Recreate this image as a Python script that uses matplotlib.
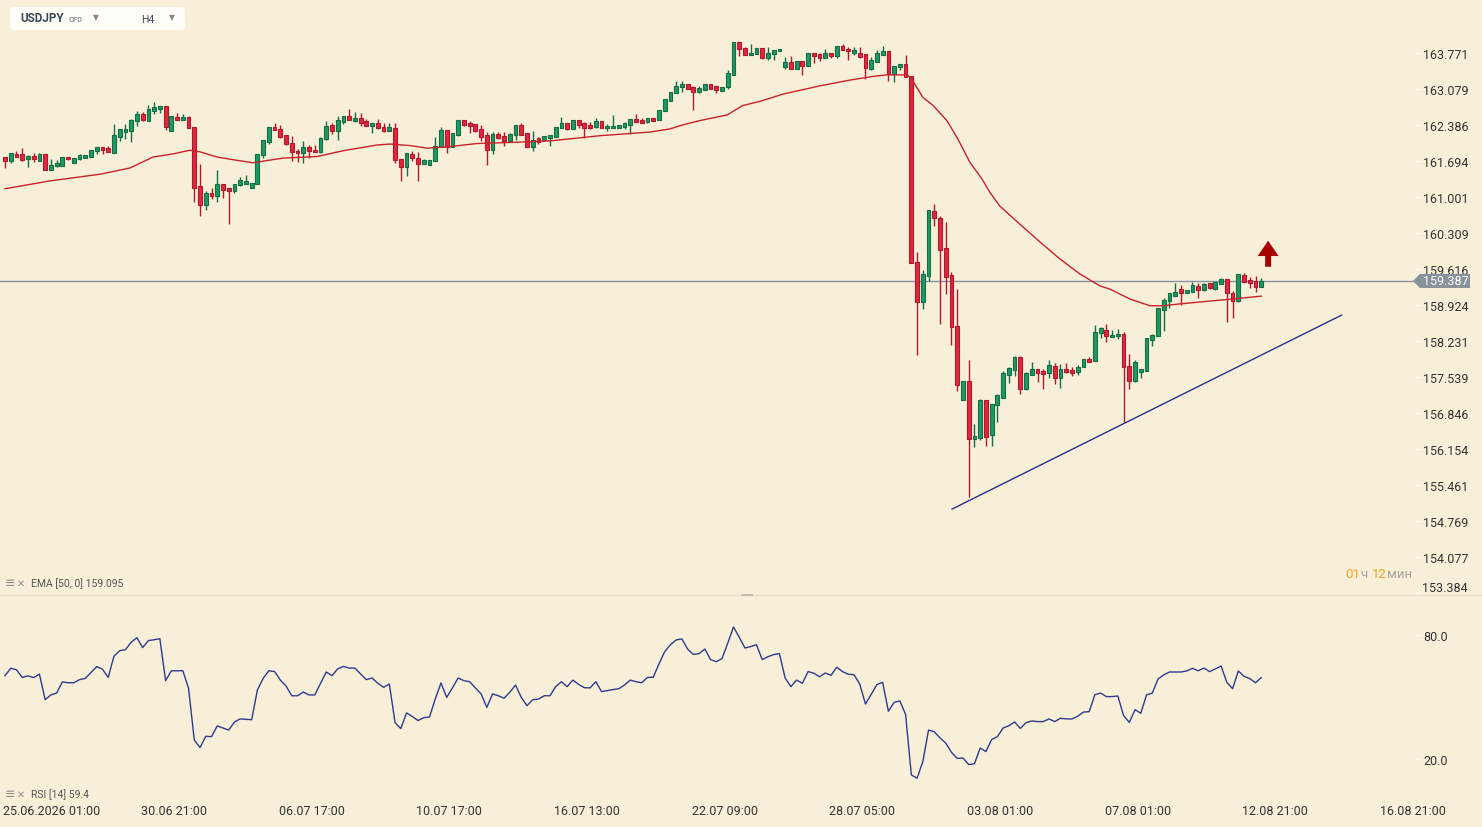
import numpy as np
import matplotlib
matplotlib.use('Agg')
from matplotlib import pyplot as plt
from matplotlib.patches import FancyBboxPatch, Polygon
from matplotlib.lines import Line2D
import matplotlib.transforms as mtransforms

plt.rcParams['font.family'] = ['Roboto', 'DejaVu Sans']

# USDJPY H4 candles (bar 1 .. bar 220)
opens = [
    161.78, 161.70, 161.82, 161.83, 161.73, 161.79, 161.70, 161.82, 161.53, 161.59,
    161.60, 161.78, 161.65, 161.74, 161.76, 161.78, 161.88, 161.96, 161.94, 161.84,
    162.16, 162.26, 162.28, 162.46, 162.59, 162.47, 162.66, 162.70, 162.75, 162.28,
    162.54, 162.49, 162.54, 162.34, 161.21, 160.84, 161.08, 161.03, 161.25, 161.17,
    161.11, 161.24, 161.26, 161.17, 161.25, 161.80, 162.05, 162.35, 162.31, 162.19,
    162.04, 161.89, 161.85, 161.96, 161.91, 161.87, 162.12, 162.38, 162.28, 162.45,
    162.55, 162.47, 162.52, 162.46, 162.36, 162.42, 162.34, 162.28, 162.32, 161.74,
    161.57, 161.83, 161.76, 161.63, 161.62, 161.69, 161.96, 162.29, 161.97, 162.20,
    162.48, 162.42, 162.40, 162.31, 162.19, 161.91, 162.21, 162.17, 162.07, 162.19,
    162.39, 162.23, 161.97, 162.14, 162.09, 162.14, 162.16, 162.32, 162.42, 162.30,
    162.48, 162.42, 162.39, 162.35, 162.46, 162.32, 162.32, 162.33, 162.35, 162.39,
    162.50, 162.48, 162.44, 162.52, 162.49, 162.66, 162.85, 163.01, 163.12, 163.17,
    163.12, 163.03, 163.06, 163.17, 163.14, 163.04, 163.11, 163.35, 163.98, 163.87,
    163.74, 163.75, 163.87, 163.67, 163.75, 163.80, 163.50, 163.60, 163.47, 163.61,
    163.53, 163.77, 163.75, 163.67, 163.78, 163.71, 163.90, 163.85, 163.77, 163.78,
    163.75, 163.46, 163.60, 163.74, 163.80, 163.37, 163.50, 163.56, 163.32, 159.75,
    158.98, 159.49, 160.73, 160.59, 160.02, 159.50, 158.52, 157.09, 157.46, 156.34,
    156.37, 157.10, 156.43, 157.01, 157.13, 157.58, 157.68, 157.93, 157.31, 157.58,
    157.69, 157.65, 157.62, 157.75, 157.53, 157.69, 157.67, 157.64, 157.73, 157.89,
    157.84, 158.38, 158.44, 158.30, 158.32, 158.37, 157.75, 157.47, 157.64, 157.66,
    158.26, 158.32, 158.83, 159.00, 159.10, 159.23, 159.15, 159.18, 159.29, 159.21,
    159.34, 159.23, 159.32, 159.42, 159.15, 159.01, 159.50, 159.41, 159.38, 159.27,
]
highs = [
    161.78, 161.84, 161.89, 161.94, 161.81, 161.84, 161.84, 161.82, 161.73, 161.72,
    161.78, 161.78, 161.76, 161.83, 161.80, 161.90, 161.96, 161.96, 161.98, 162.41,
    162.30, 162.41, 162.50, 162.65, 162.63, 162.77, 162.82, 162.75, 162.75, 162.55,
    162.62, 162.60, 162.55, 162.34, 161.64, 161.11, 161.18, 161.52, 161.25, 161.17,
    161.26, 161.38, 161.42, 161.28, 161.82, 162.10, 162.34, 162.42, 162.39, 162.19,
    162.17, 161.92, 162.07, 162.01, 162.01, 162.15, 162.46, 162.42, 162.55, 162.55,
    162.69, 162.63, 162.62, 162.50, 162.42, 162.50, 162.42, 162.42, 162.42, 161.74,
    161.84, 161.89, 161.87, 161.74, 161.71, 162.16, 162.34, 162.29, 162.23, 162.48,
    162.48, 162.46, 162.40, 162.39, 162.26, 162.25, 162.26, 162.25, 162.24, 162.38,
    162.42, 162.23, 162.27, 162.16, 162.17, 162.19, 162.34, 162.54, 162.42, 162.48,
    162.48, 162.44, 162.44, 162.52, 162.46, 162.40, 162.58, 162.39, 162.45, 162.50,
    162.60, 162.52, 162.53, 162.52, 162.68, 162.89, 163.03, 163.24, 163.24, 163.17,
    163.14, 163.14, 163.17, 163.17, 163.14, 163.12, 163.44, 163.98, 163.98, 163.88,
    163.94, 163.87, 163.87, 163.88, 163.83, 163.85, 163.69, 163.71, 163.61, 163.61,
    163.77, 163.77, 163.78, 163.84, 163.78, 163.90, 163.94, 163.88, 163.88, 163.88,
    163.75, 163.69, 163.83, 163.90, 163.80, 163.52, 163.56, 163.73, 163.32, 159.94,
    159.60, 160.75, 160.87, 160.64, 160.53, 159.55, 159.23, 157.46, 157.87, 156.64,
    157.12, 157.10, 157.03, 157.21, 157.65, 157.74, 157.95, 157.95, 157.63, 157.82,
    157.69, 157.69, 157.87, 157.80, 157.79, 157.81, 157.74, 157.77, 157.89, 157.93,
    158.54, 158.51, 158.56, 158.44, 158.46, 158.40, 157.98, 157.87, 157.69, 158.29,
    158.37, 158.87, 159.06, 159.15, 159.34, 159.30, 159.21, 159.37, 159.35, 159.34,
    159.35, 159.37, 159.44, 159.42, 159.20, 159.52, 159.54, 159.47, 159.48, 159.44,
]
lows = [
    161.56, 161.66, 161.78, 161.69, 161.57, 161.68, 161.70, 161.53, 161.53, 161.57,
    161.59, 161.72, 161.65, 161.72, 161.76, 161.78, 161.82, 161.82, 161.86, 161.84,
    162.07, 162.12, 162.05, 162.36, 162.47, 162.47, 162.59, 162.62, 162.29, 162.28,
    162.49, 162.49, 162.32, 160.91, 160.64, 160.76, 160.96, 160.91, 160.99, 160.49,
    161.07, 161.21, 161.26, 161.17, 161.25, 161.75, 162.02, 162.29, 162.14, 162.00,
    161.70, 161.68, 161.66, 161.76, 161.86, 161.85, 162.10, 162.21, 162.09, 162.41,
    162.49, 162.44, 162.37, 162.36, 162.24, 162.30, 162.26, 162.28, 161.65, 161.30,
    161.41, 161.70, 161.30, 161.63, 161.62, 161.69, 161.96, 161.84, 161.97, 162.18,
    162.36, 162.23, 162.25, 162.07, 161.62, 161.83, 162.12, 161.98, 162.05, 162.10,
    162.20, 161.97, 161.89, 162.02, 162.07, 161.99, 162.16, 162.32, 162.29, 162.30,
    162.33, 162.13, 162.30, 162.33, 162.32, 162.28, 162.32, 162.33, 162.31, 162.21,
    162.45, 162.43, 162.42, 162.46, 162.49, 162.66, 162.85, 163.01, 163.03, 163.07,
    162.68, 163.00, 163.06, 163.07, 163.00, 163.04, 163.07, 163.35, 163.71, 163.74,
    163.74, 163.75, 163.66, 163.64, 163.64, 163.80, 163.46, 163.47, 163.47, 163.34,
    163.53, 163.58, 163.62, 163.67, 163.67, 163.67, 163.82, 163.64, 163.73, 163.67,
    163.28, 163.44, 163.60, 163.74, 163.24, 163.22, 163.44, 163.30, 159.73, 157.97,
    158.84, 159.39, 160.45, 158.55, 159.14, 158.16, 157.28, 157.09, 155.23, 156.20,
    156.32, 156.22, 156.22, 156.68, 157.13, 157.42, 157.55, 157.21, 157.29, 157.58,
    157.45, 157.30, 157.53, 157.40, 157.32, 157.61, 157.55, 157.58, 157.73, 157.82,
    157.84, 158.29, 158.22, 158.30, 158.28, 156.68, 157.30, 157.45, 157.53, 157.66,
    158.14, 158.32, 158.43, 158.87, 159.09, 158.93, 159.15, 159.18, 159.06, 159.20,
    159.23, 159.22, 159.32, 158.59, 158.67, 158.99, 159.36, 159.25, 159.18, 159.27,
]
closes = [
    161.70, 161.84, 161.78, 161.71, 161.79, 161.74, 161.82, 161.53, 161.61, 161.66,
    161.78, 161.74, 161.76, 161.81, 161.80, 161.90, 161.96, 161.91, 161.86, 162.19,
    162.30, 162.31, 162.48, 162.59, 162.49, 162.69, 162.73, 162.75, 162.34, 162.55,
    162.49, 162.54, 162.32, 161.18, 160.84, 161.08, 161.03, 161.25, 161.14, 161.11,
    161.26, 161.33, 161.30, 161.28, 161.82, 162.10, 162.34, 162.29, 162.16, 162.02,
    161.86, 161.84, 161.96, 161.88, 161.86, 162.14, 162.36, 162.28, 162.48, 162.55,
    162.49, 162.53, 162.42, 162.36, 162.42, 162.32, 162.27, 162.35, 161.72, 161.57,
    161.84, 161.76, 161.63, 161.71, 161.71, 161.99, 162.29, 161.96, 162.23, 162.48,
    162.39, 162.37, 162.28, 162.16, 161.91, 162.21, 162.14, 162.08, 162.21, 162.38,
    162.20, 161.97, 162.10, 162.05, 162.17, 162.19, 162.34, 162.42, 162.30, 162.48,
    162.39, 162.33, 162.32, 162.46, 162.32, 162.37, 162.37, 162.39, 162.43, 162.50,
    162.45, 162.43, 162.52, 162.47, 162.68, 162.89, 163.03, 163.14, 163.17, 163.07,
    163.03, 163.09, 163.17, 163.07, 163.05, 163.12, 163.39, 163.98, 163.84, 163.74,
    163.78, 163.87, 163.67, 163.78, 163.83, 163.85, 163.60, 163.47, 163.61, 163.53,
    163.77, 163.71, 163.67, 163.78, 163.71, 163.90, 163.82, 163.80, 163.83, 163.69,
    163.49, 163.64, 163.77, 163.80, 163.37, 163.52, 163.56, 163.30, 159.73, 158.98,
    159.53, 160.75, 160.59, 159.99, 159.47, 158.50, 157.39, 157.46, 156.34, 156.40,
    157.10, 156.39, 157.03, 157.19, 157.62, 157.71, 157.93, 157.30, 157.62, 157.69,
    157.62, 157.60, 157.77, 157.53, 157.69, 157.64, 157.62, 157.74, 157.89, 157.83,
    158.40, 158.48, 158.32, 158.35, 158.37, 157.73, 157.47, 157.82, 157.69, 158.29,
    158.35, 158.87, 159.02, 159.15, 159.18, 159.15, 159.21, 159.30, 159.22, 159.33,
    159.25, 159.36, 159.42, 159.15, 159.01, 159.52, 159.37, 159.34, 159.27, 159.39,
]

# EMA(50) as drawn: bar number -> value
ema_bar = [1, 8.8, 17.6, 22.8, 26.8, 30.3, 33.2, 35, 38, 40.7, 44.2, 49.5, 55.4,
           59.9, 65.8, 68.1, 71.6, 74.6, 78.6, 83.3, 89, 96, 104.7, 113.4, 116.9,
           119.2, 122.1, 126.9, 129.6, 132.6, 136.6, 143.1, 148.3, 152.3, 154.7,
           158.2, 158.9, 161, 162.8, 165.2, 167.1, 169.2, 171.3, 172.7, 174.4,
           177.9, 181.4, 184.9, 188.4, 191.9, 193.6, 197.1, 200.6, 202.9, 205.3,
           211, 214, 216.8, 220]
ema_val = [161.16, 161.31, 161.44, 161.56, 161.77, 161.83, 161.90, 161.87, 161.77,
           161.72, 161.66, 161.75, 161.78, 161.89, 162.00, 162.02, 161.99, 161.94,
           161.97, 162.03, 162.05, 162.08, 162.18, 162.25, 162.31, 162.39, 162.47,
           162.58, 162.76, 162.84, 162.98, 163.14, 163.25, 163.32, 163.35, 163.35,
           163.30, 162.92, 162.76, 162.47, 162.12, 161.67, 161.35, 161.09, 160.83,
           160.48, 160.14, 159.81, 159.52, 159.29, 159.23, 159.04, 158.91, 158.91,
           158.94, 159.00, 159.03, 159.06, 159.095]

# RSI(14), one value per bar
rsi = [
    60.3, 63.9, 63.2, 59.5, 60.2, 59.4, 61.1, 48.7, 51.0, 51.9,
    57.3, 56.9, 56.9, 58.4, 59.0, 61.9, 64.7, 63.4, 59.5, 69.8,
    72.4, 72.9, 76.5, 78.7, 73.9, 77.3, 77.7, 78.2, 57.9, 62.7,
    62.7, 62.7, 54.2, 29.2, 25.5, 31.0, 30.8, 36.0, 35.0, 34.0,
    37.9, 39.4, 39.2, 39.0, 53.4, 59.0, 62.7, 62.3, 58.2, 55.3,
    50.6, 50.6, 52.4, 51.0, 51.0, 56.6, 62.1, 60.3, 63.6, 64.8,
    64.0, 64.0, 61.1, 58.4, 59.2, 56.6, 54.7, 56.3, 37.6, 34.7,
    42.3, 40.6, 38.6, 40.0, 40.3, 49.0, 56.8, 49.8, 54.4, 59.2,
    57.9, 57.4, 54.4, 51.5, 45.0, 51.5, 50.6, 49.4, 52.3, 55.8,
    49.8, 45.8, 48.7, 49.0, 50.6, 50.6, 55.0, 57.4, 55.0, 58.2,
    56.1, 54.5, 54.4, 57.4, 52.6, 53.1, 53.6, 54.0, 55.8, 58.2,
    57.4, 56.9, 59.5, 59.5, 66.0, 71.9, 75.3, 77.6, 78.1, 73.2,
    70.6, 71.0, 73.2, 68.1, 67.1, 68.6, 76.1, 83.9, 78.9, 73.7,
    74.4, 75.3, 68.1, 69.5, 70.5, 71.0, 59.2, 55.0, 58.2, 56.6,
    62.3, 61.5, 59.8, 61.6, 60.5, 64.4, 62.3, 61.0, 60.8, 56.3,
    46.6, 51.3, 56.0, 57.1, 43.1, 47.4, 48.1, 41.5, 12.3, 10.7,
    18.7, 34.0, 33.2, 30.2, 27.7, 23.2, 20.3, 20.5, 17.3, 17.7,
    25.3, 23.6, 29.4, 30.8, 35.0, 36.1, 37.9, 34.8, 37.6, 38.4,
    38.1, 38.1, 39.4, 38.1, 39.7, 39.4, 39.4, 40.7, 42.7, 42.9,
    51.1, 51.9, 50.2, 50.2, 50.5, 41.0, 37.7, 43.9, 42.1, 51.0,
    51.9, 58.7, 60.7, 62.1, 62.1, 62.1, 62.6, 63.9, 62.7, 64.0,
    62.3, 63.6, 65.0, 57.1, 54.0, 62.6, 60.0, 58.9, 56.9, 59.4,
]

last_price = 159.387
ema_last, rsi_last = 159.095, 59.4
price_ticks = [153.384, 154.077, 154.769, 155.461, 156.154, 156.846, 157.539, 158.231,
               158.924, 159.616, 160.309, 161.001, 161.694, 162.386, 163.079, 163.771]
rsi_ticks = [20.0, 80.0]
date_labels = ['25.06.2026 01:00', '30.06 21:00', '06.07 17:00', '10.07 17:00',
               '16.07 13:00', '22.07 09:00', '28.07 05:00', '03.08 01:00',
               '07.08 01:00', '12.08 21:00', '16.08 21:00']
# hand-drawn support line (bar, price)
trend_bar = [166.1, 234.0]
trend_val = [155.00, 158.73]

opens, highs, lows, closes = map(np.array, (opens, highs, lows, closes))
highs = np.maximum(highs, np.maximum(opens, closes))
lows = np.minimum(lows, np.minimum(opens, closes))
bars = np.arange(1, len(closes) + 1)

BG = '#f8efd8'
UP, UP_EDGE = '#1f9963', '#136e46'
DN, DN_EDGE = '#e2263e', '#b0192d'
TXT = '#333333'
W, H = 1482, 828

fig = plt.figure(figsize=(W / 100, H / 100), dpi=100, facecolor=BG)
ax = fig.add_axes([0, 1 - 595 / H, 1415 / W, 595 / H], facecolor=BG)
rx = fig.add_axes([0, 1 - 797 / H, 1415 / W, 200 / H], facecolor=BG, sharex=ax)

# candles
up = closes >= opens
edge = np.where(up, UP_EDGE, DN_EDGE)
ax.vlines(bars, lows, highs, colors=edge, lw=1, zorder=2)
ax.bar(bars, np.maximum(np.abs(closes - opens), 0.012), bottom=np.minimum(opens, closes),
       width=0.66, color=np.where(up, UP, DN), edgecolor=edge, linewidth=0.8, zorder=3)

ax.plot(ema_bar, ema_val, color='#c9212c', lw=1.0, zorder=4)
ax.plot(trend_bar, trend_val, color='#2b2f8c', lw=1.0, zorder=4)
ax.axhline(last_price, color='#8591a0', lw=1, zorder=1)
ax.annotate('', xy=(221.2, 160.16), xytext=(221.2, 159.66),
            arrowprops=dict(width=4.3, headwidth=15, headlength=11, shrink=0,
                            color='#a60000', lw=0))

ax.set_xlim(0.13, 246.8)
ax.set_ylim(153.367, 164.809)
ax.yaxis.tick_right()
ax.set_yticks(price_ticks)
# the lowest label sits a few pixels above its tick, as in the terminal
ax.set_yticklabels([''] + [f'{v:.3f}' for v in price_ticks[1:]])
ax.tick_params(axis='y', length=4, width=1, color='#fdfaf2', pad=2,
               labelsize=9, labelcolor=TXT)
ax.tick_params(axis='x', bottom=False, labelbottom=False)
for s in list(ax.spines.values()) + list(rx.spines.values()):
    s.set_visible(False)

tr = mtransforms.blended_transform_factory(ax.transAxes, ax.transData)
ax.text(1.0049, price_ticks[0] + 0.1, f'{price_ticks[0]:.3f}', transform=tr,
        ha='left', va='center', fontsize=9, color=TXT, clip_on=False)

# current price tag
hh = 0.135
tag = Polygon([(0.9986, last_price), (1.0035, last_price + hh), (1.0389, last_price + hh),
               (1.0389, last_price - hh), (1.0035, last_price - hh)],
              closed=True, transform=tr, facecolor='#87929a', edgecolor='none',
              clip_on=False, zorder=6)
ax.add_patch(tag)
ax.text(1.0215, last_price, f'{last_price:.3f}', transform=tr, ha='center',
        va='center', color='white', fontsize=9, zorder=7, clip_on=False)

# RSI panel
rx.plot(bars, rsi, color='#2f3a8f', lw=1.0)
rx.set_ylim(2.1, 98.87)
rx.yaxis.tick_right()
rx.set_yticks(rsi_ticks)
rx.set_yticklabels([f'{v:.1f}' for v in rsi_ticks])
rx.tick_params(axis='y', length=4, width=1, color='#fdfaf2', pad=2,
               labelsize=9, labelcolor=TXT)
rx.set_xticks([9.2] + list(30.46 + 24 * np.arange(len(date_labels) - 1)))
rx.set_xticklabels(date_labels)
rx.tick_params(axis='x', length=0, pad=6, labelsize=9, labelcolor=TXT)
rx.set_xlim(0.13, 246.8)


def px(x, y):
    return x / W, 1 - y / H


# panel divider and handle
fig.add_artist(Line2D([0, 1], [1 - 595.5 / H] * 2, color='#e6dfca', lw=1))
fig.add_artist(Line2D([742 / W, 752 / W], [1 - 596 / H] * 2, color='#c4beae', lw=1.5))

# indicator legends
for yy, label in ((584, f'EMA [50, 0] {ema_last:.3f}'), (795, f'RSI [14] {rsi_last:.1f}')):
    fig.text(*px(5, yy), '≡', family='DejaVu Sans', fontsize=9, color='#8c8c8c', va='center')
    fig.text(*px(17, yy), '✕', family='DejaVu Sans', fontsize=7, color='#8c8c8c', va='center')
    fig.text(*px(31, yy), label, fontsize=7.5, color='#555555', va='center')

# time left till bar close
for xx, s, c in ((1345, '01', '#f5a21f'), (1360, 'ч', '#a9a59c'),
                 (1372, '12', '#f5a21f'), (1387, 'мин', '#a9a59c')):
    fig.text(*px(xx, 575), s, fontsize=9.5, color=c, va='center')

# symbol box
box = FancyBboxPatch(px(10, 31), 175 / W, 23 / H, boxstyle='round,pad=0,rounding_size=0.003',
                     transform=fig.transFigure, facecolor='#fffdf7', edgecolor='none')
fig.patches.append(box)
fig.text(*px(20, 19), 'USDJPY', fontsize=8.5, weight='bold', color='#3b4954', va='center')
fig.text(*px(69, 19.5), 'CFD', fontsize=5.5, weight='bold', color='#8b9299', va='center')
fig.text(*px(141, 20), 'H4', fontsize=7.5, color='#3b4954', va='center')
for xx in (96, 172):
    fig.text(*px(xx, 18), '▼', family='DejaVu Sans', fontsize=5.5, color='#80878e',
             ha='center', va='center')

fig.savefig('out.png', dpi=100, facecolor=BG)
